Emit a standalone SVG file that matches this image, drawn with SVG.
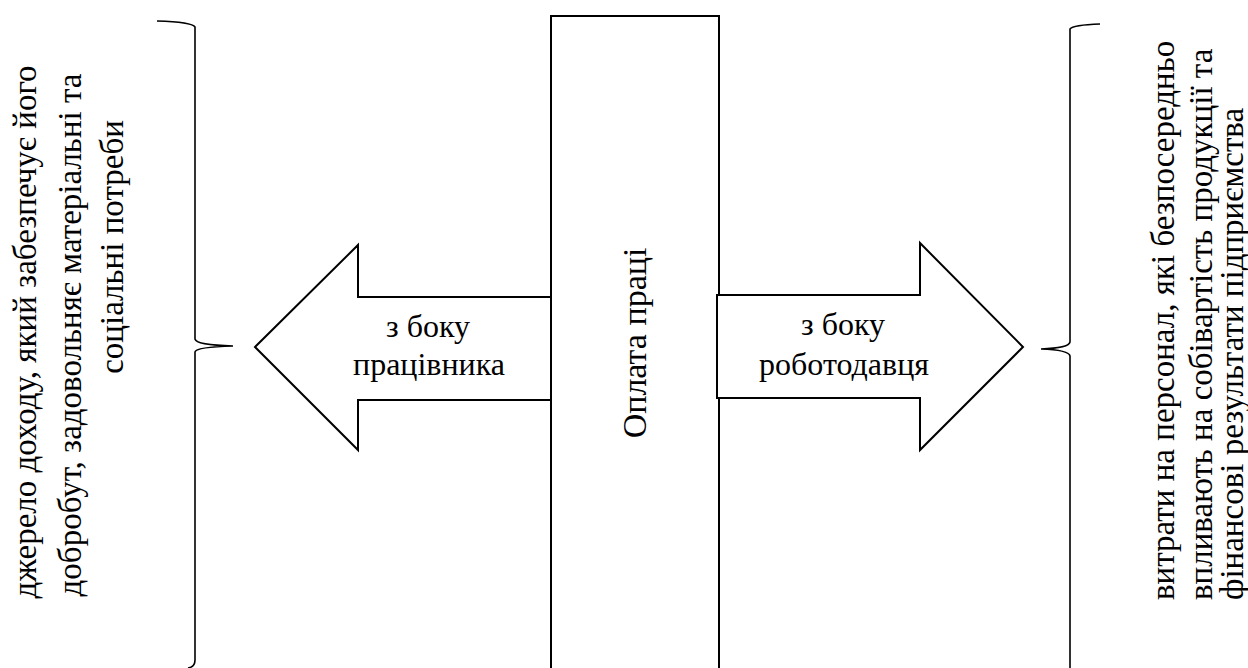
<svg xmlns="http://www.w3.org/2000/svg" width="1248" height="668" viewBox="0 0 1248 668">
<style>
text{font-family:'Liberation Serif','Times New Roman',serif;font-size:32px;fill:#000}
.side{font-size:33px}
.mid{font-size:34px}
.shape{fill:#fff;stroke:#000;stroke-width:2}
.brace{fill:none;stroke:#000;stroke-width:1.6}
</style>
<rect width="1248" height="668" fill="#fff"/>
<g id="left-text">
<text class="side" text-anchor="middle" transform="translate(36,332) rotate(-90)">джерело доходу, який забезпечує його</text>
<text class="side" text-anchor="middle" transform="translate(81,335) rotate(-90)">добробут, задовольняє матеріальні та</text>
<text class="side" text-anchor="middle" transform="translate(123,247) rotate(-90)">соціальні потреби</text>
</g>
<g id="right-text">
<text class="side" text-anchor="start" transform="translate(1174,600) rotate(-90)">витрати на персонал, які безпосередньо</text>
<text class="side" text-anchor="start" transform="translate(1212,600) rotate(-90)">впливають на собівартість продукції та</text>
<text class="side" text-anchor="start" transform="translate(1243,600) rotate(-90)">фінансові результати підприємства</text>
</g>
<g id="connectors">
<path class="brace" d="M157,21 Q192,22 195,27 L195,339 Q196,345 233,346 Q196,347 195,352 L195,660 Q195,667 188,668"/>
<path class="brace" d="M1100,24 Q1073,25 1070,29 L1070,342 Q1069,348 1041,349 Q1069,350 1070,356 L1070,670"/>
</g>
<g id="center-box">
<rect class="shape" x="551" y="16" width="168" height="680"/>
<text class="mid" text-anchor="middle" transform="translate(646,343) rotate(-90)">Оплата праці</text>
</g>
<g id="arrow-left">
<polygon class="shape" points="551,297 358,297 358,245 255,347 358,450 358,400 551,400"/>
<text text-anchor="middle" x="428" y="337">з боку</text>
<text text-anchor="middle" x="429" y="375">працівника</text>
</g>
<g id="arrow-right">
<polygon class="shape" points="717,295 920,295 920,243 1023,347 920,450 920,398 717,398"/>
<text text-anchor="middle" x="843" y="335">з боку</text>
<text text-anchor="middle" x="844" y="375">роботодавця</text>
</g>
</svg>
